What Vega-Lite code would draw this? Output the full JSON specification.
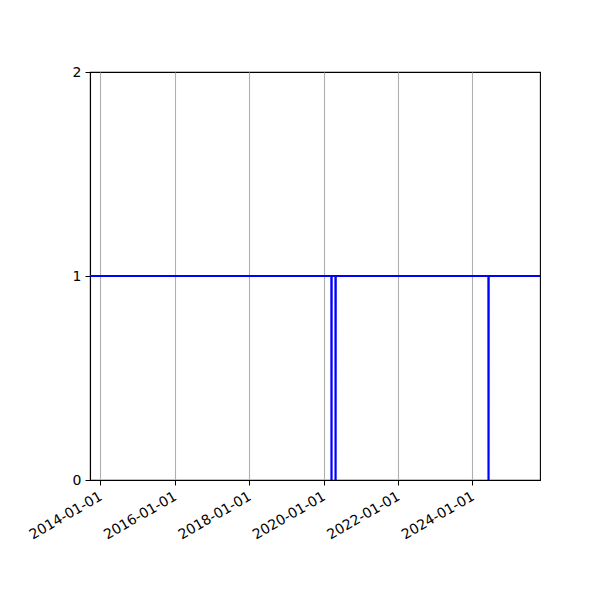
{
  "$schema": "https://vega.github.io/schema/vega-lite/v6.json",
  "width": 450,
  "height": 408,
  "autosize": {"type": "none"},
  "padding": {"left": 90, "top": 72, "right": 60, "bottom": 120},
  "background": "white",
  "config": {
    "view": {"stroke": "black", "strokeWidth": 1.1},
    "font": "DejaVu Sans"
  },
  "data": {
    "values": [
      {"date": "2013-09-22", "value": 1},
      {"date": "2020-03-18", "value": 1},
      {"date": "2020-03-19", "value": 0},
      {"date": "2020-03-20", "value": 1},
      {"date": "2020-04-27", "value": 1},
      {"date": "2020-04-28", "value": 0},
      {"date": "2020-04-29", "value": 1},
      {"date": "2024-06-06", "value": 1},
      {"date": "2024-06-07", "value": 0},
      {"date": "2024-06-08", "value": 1},
      {"date": "2025-10-25", "value": 1}
    ]
  },
  "mark": {"type": "line", "color": "#0000ff", "strokeWidth": 2.2, "clip": true},
  "encoding": {
    "x": {
      "field": "date",
      "type": "temporal",
      "scale": {"domain": [{"year": 2013, "month": 9, "date": 22}, {"year": 2025, "month": 10, "date": 25}], "nice": false},
      "axis": {
        "title": null,
        "values": [
          {"year": 2014, "month": 1, "date": 1},
          {"year": 2016, "month": 1, "date": 1},
          {"year": 2018, "month": 1, "date": 1},
          {"year": 2020, "month": 1, "date": 1},
          {"year": 2022, "month": 1, "date": 1},
          {"year": 2024, "month": 1, "date": 1}
        ],
        "format": "%Y-%m-%d",
        "labelAngle": -30,
        "labelAlign": "right",
        "labelBaseline": "top",
        "labelPadding": 4,
        "labelOffset": -3,
        "labelFontSize": 14,
        "labelColor": "black",
        "labelFont": "DejaVu Sans",
        "tickColor": "black",
        "tickSize": 5,
        "domainColor": "black",
        "domainWidth": 1.1,
        "grid": true,
        "gridColor": "#b0b0b0",
        "gridWidth": 1.1,
        "labelOverlap": false,
        "labelFlush": false
      }
    },
    "y": {
      "field": "value",
      "type": "quantitative",
      "scale": {"domain": [0, 2], "nice": false, "zero": false},
      "axis": {
        "title": null,
        "values": [0, 1, 2],
        "labelExpr": "format(datum.value, '.0f')",
        "grid": false,
        "labelFontSize": 14,
        "labelColor": "black",
        "labelFont": "DejaVu Sans",
        "labelPadding": 4,
        "labelOverlap": false,
        "tickColor": "black",
        "tickSize": 5,
        "domainColor": "black",
        "domainWidth": 1.1,
        "labelFlush": false
      }
    }
  }
}
